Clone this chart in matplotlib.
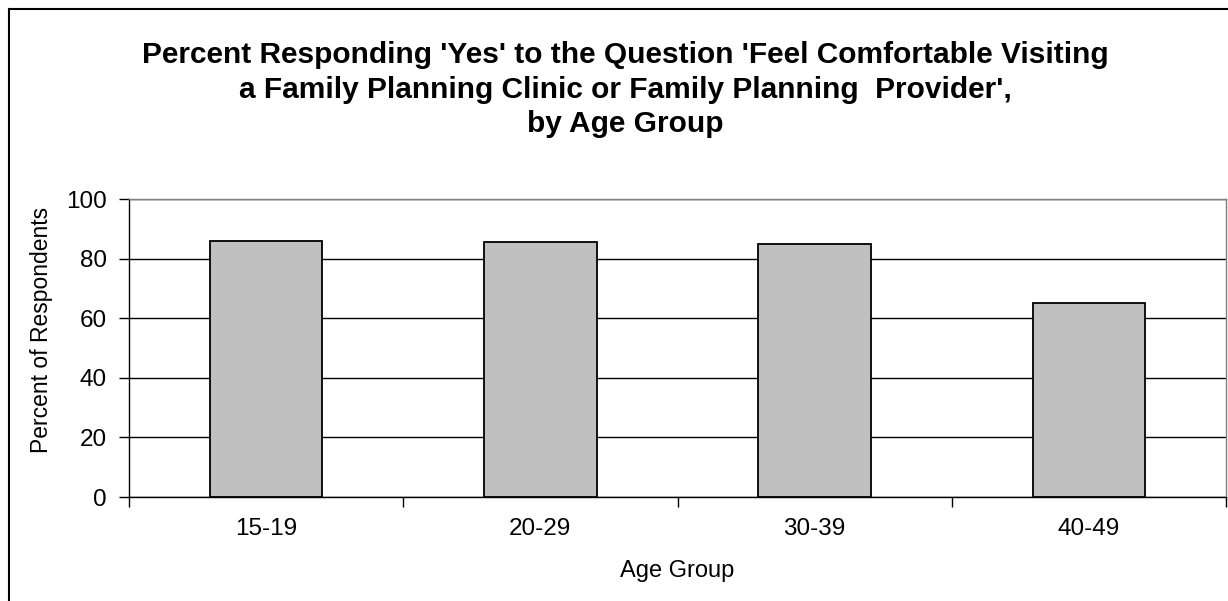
import matplotlib
matplotlib.use('Agg')
import matplotlib.pyplot as plt
from matplotlib.lines import Line2D

# data
age_groups = ['15-19', '20-29', '30-39', '40-49']
pct_yes = [86, 85.6, 85, 65]

title = ("Percent Responding 'Yes' to the Question 'Feel Comfortable Visiting\n"
         "a Family Planning Clinic or Family Planning  Provider',\n"
         "by Age Group")

plt.rcParams['font.family'] = ['Liberation Sans', 'DejaVu Sans']

W, H = 1228, 601
fig = plt.figure(figsize=(W / 100, H / 100), dpi=100)
ax = fig.add_axes([129 / W, 1 - 497 / H, (1226 - 129) / W, (497 - 199) / H])

x = list(range(len(age_groups)))
ax.bar(x, pct_yes, width=0.41, color='#c0c0c0', edgecolor='black',
       linewidth=1.3, zorder=3)

ax.set_xlim(-0.5, len(age_groups) - 0.5)
ax.set_ylim(0, 100)
ax.set_yticks(range(0, 101, 20))
ax.set_xticks(x)
ax.set_xticklabels(age_groups)
ax.set_xticks([i - 0.5 for i in range(len(age_groups) + 1)], minor=True)

ax.tick_params(axis='y', labelsize=17.5, length=7, width=1, direction='out', pad=9)
ax.tick_params(axis='x', which='major', labelsize=17.5, length=0, pad=15)
ax.tick_params(axis='x', which='minor', length=7, width=1, direction='out')

ax.yaxis.grid(True, color='black', linewidth=1, zorder=0)
ax.set_axisbelow(True)

for s in ['left', 'bottom']:
    ax.spines[s].set_color('black')
    ax.spines[s].set_linewidth(1)
for s in ['top', 'right']:
    ax.spines[s].set_color('#808080')
    ax.spines[s].set_linewidth(1)

fig.text(625 / W, 1 - 41 / H, title, ha='center', va='top', fontsize=21.5,
         fontweight='bold', linespacing=1.3)
fig.text(42 / W, 1 - 330 / H, 'Percent of Respondents', rotation=90,
         ha='center', va='center', fontsize=16.5)
fig.text(677 / W, 1 - 571 / H, 'Age Group', ha='center', va='center', fontsize=17)

# outer chart frame (left and top edges visible)
fig.add_artist(Line2D([9 / W, 9 / W], [0, 1 - 9 / H], color='black', linewidth=1.5,
                      transform=fig.transFigure))
fig.add_artist(Line2D([9 / W, 1], [1 - 9 / H, 1 - 9 / H], color='black', linewidth=1.5,
                      transform=fig.transFigure))

fig.savefig('out.png', dpi=100)
